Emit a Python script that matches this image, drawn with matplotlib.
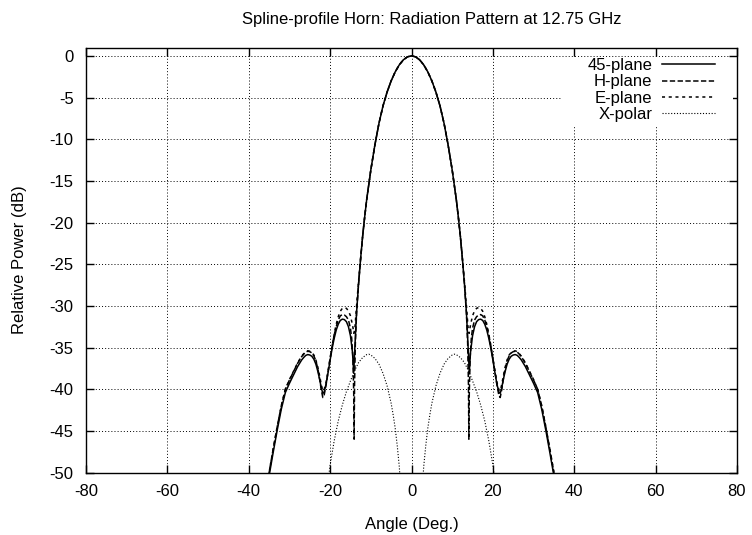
import numpy as np
import matplotlib
matplotlib.use("Agg")
import matplotlib.pyplot as plt
from matplotlib.patches import Rectangle

# ---------------- data ----------------
angle_45 = [-35.5, -35, -34, -33, -32, -31, -30, -29, -28, -27, -26.5, -26, -25.5, -25, -24.5,
            -24, -23.5, -23, -22.5, -22.2, -21.8, -21.5, -21, -20.5, -20, -19.5, -19, -18.5,
            -18, -17.5, -17, -16.5, -16, -15.5, -15, -14.5, -14.2, -13.9, -13.5, -13, -12.5,
            -12, -11.5, -11, -10, -9, -8, -7, -6, -5, -4, -3, -2, -1, 0,
            1, 2, 3, 4, 5, 6, 7, 8, 9, 10, 11, 11.5, 12, 12.5, 13, 13.5, 13.9, 14.2, 14.5,
            15, 15.5, 16, 16.5, 17, 17.5, 18, 18.5, 19, 19.5, 20, 20.5, 21, 21.5, 21.8, 22.2,
            22.5, 23, 23.5, 24, 24.5, 25, 25.5, 26, 26.5, 27, 28, 29, 30, 31, 32, 33, 34, 35, 35.5]
p45 = [-51.8, -50.4, -47.6, -44.9, -42.4, -40.4, -39.3, -38.3, -37.3, -36.5, -36.2, -35.95,
       -35.85, -35.9, -36.05, -36.4, -37.0, -37.9, -39.0, -39.8, -40.5, -40.4, -39.4, -38.0,
       -36.5, -35.1, -33.9, -32.9, -32.2, -31.75, -31.6, -31.65, -31.9, -32.5, -33.6, -35.6,
       -38.0, -34.8, -30.8, -27.3, -24.3, -21.6, -19.3, -17.2, -13.7, -10.7, -8.1, -6.0,
       -4.35, -3.0, -1.92, -1.08, -0.48, -0.12, 0.0,
       -0.12, -0.48, -1.08, -1.92, -3.0, -4.35, -6.0, -8.1, -10.7, -13.7, -17.2, -19.3,
       -21.6, -24.3, -27.3, -30.8, -34.8, -38.0, -35.6, -33.6, -32.5, -31.9, -31.65, -31.6,
       -31.75, -32.2, -32.9, -33.9, -35.1, -36.5, -38.0, -39.4, -40.4, -40.5, -39.8, -39.0,
       -37.9, -37.0, -36.4, -36.05, -35.9, -35.85, -35.95, -36.2, -36.5, -37.3, -38.3, -39.3,
       -40.4, -42.4, -44.9, -47.6, -50.4, -51.8]

angle_h = [-35.5, -35, -34, -33, -32, -31, -30, -29, -28, -27, -26.5, -26, -25.5, -25, -24.5,
           -24, -23.5, -23, -22.5, -22.2, -21.8, -21.5, -21, -20.5, -20, -19.5, -19, -18.5,
           -18, -17.5, -17, -16.5, -16, -15.5, -15, -14.7, -14.4, -14.2, -14.1, -14.0, -13.8,
           -13.5, -13, -12.5, -12, -11.5, -11, -10, -9, -8, -7, -6, -5, -4, -3, -2, -1, 0,
           1, 2, 3, 4, 5, 6, 7, 8, 9, 10, 11, 11.5, 12, 12.5, 13, 13.5, 13.8, 14.0, 14.1,
           14.2, 14.4, 14.7, 15, 15.5, 16, 16.5, 17, 17.5, 18, 18.5, 19, 19.5, 20, 20.5, 21,
           21.5, 21.8, 22.2, 22.5, 23, 23.5, 24, 24.5, 25, 25.5, 26, 26.5, 27, 28, 29, 30, 31,
           32, 33, 34, 35, 35.5]
ph = [-51.4, -50.0, -47.2, -44.5, -42.0, -40.0, -38.9, -37.9, -36.9, -36.1, -35.8, -35.55,
      -35.45, -35.5, -35.65, -36.0, -36.6, -37.6, -39.0, -40.0, -41.0, -40.8, -39.5, -37.9,
      -36.3, -34.8, -33.5, -32.5, -31.7, -31.2, -31.05, -31.1, -31.3, -31.7, -32.7, -33.9,
      -36.3, -40.5, -46.0, -39.5, -34.5, -30.9, -27.3, -24.3, -21.6, -19.3, -17.2, -13.7,
      -10.7, -8.1, -6.0, -4.35, -3.0, -1.92, -1.08, -0.48, -0.12, 0.0,
      -0.12, -0.48, -1.08, -1.92, -3.0, -4.35, -6.0, -8.1, -10.7, -13.7, -17.2, -19.3,
      -21.6, -24.3, -27.3, -30.9, -34.5, -39.5, -46.0, -40.5, -36.3, -33.9, -32.7, -31.7,
      -31.3, -31.1, -31.05, -31.2, -31.7, -32.5, -33.5, -34.8, -36.3, -37.9, -39.5, -40.8,
      -41.0, -40.0, -39.0, -37.6, -36.6, -36.0, -35.65, -35.5, -35.45, -35.55, -35.8, -36.1,
      -36.9, -37.9, -38.9, -40.0, -42.0, -44.5, -47.2, -50.0, -51.4]

angle_e = [-35.5, -35, -34, -33, -32, -31, -30, -29, -28, -27, -26.5, -26, -25.5, -25, -24.5,
           -24, -23.5, -23, -22.5, -22.2, -21.8, -21.5, -21, -20.5, -20, -19.5, -19, -18.5,
           -18, -17.5, -17, -16.5, -16, -15.5, -15, -14.5, -14.15, -13.9, -13.5, -13, -12.5,
           -12, -11.5, -11, -10, -9, -8, -7, -6, -5, -4, -3, -2, -1, 0,
           1, 2, 3, 4, 5, 6, 7, 8, 9, 10, 11, 11.5, 12, 12.5, 13, 13.5, 13.9, 14.15, 14.5,
           15, 15.5, 16, 16.5, 17, 17.5, 18, 18.5, 19, 19.5, 20, 20.5, 21, 21.5, 21.8, 22.2,
           22.5, 23, 23.5, 24, 24.5, 25, 25.5, 26, 26.5, 27, 28, 29, 30, 31, 32, 33, 34, 35, 35.5]
pe = [-51.4, -50.0, -47.2, -44.5, -42.0, -40.0, -38.85, -37.85, -36.85, -36.05, -35.75,
      -35.5, -35.4, -35.45, -35.6, -35.9, -36.5, -37.4, -38.6, -39.4, -40.2, -40.1, -39.2,
      -37.8, -36.3, -34.8, -33.4, -32.2, -31.3, -30.65, -30.3, -30.2, -30.3, -30.6, -31.2,
      -32.3, -33.3, -32.6, -30.0, -27.0, -24.3, -21.6, -19.3, -17.2, -13.7, -10.7, -8.1,
      -6.0, -4.35, -3.0, -1.92, -1.08, -0.48, -0.12, 0.0,
      -0.12, -0.48, -1.08, -1.92, -3.0, -4.35, -6.0, -8.1, -10.7, -13.7, -17.2, -19.3,
      -21.6, -24.3, -27.0, -30.0, -32.6, -33.3, -32.3, -31.2, -30.6, -30.3, -30.2, -30.3,
      -30.65, -31.3, -32.2, -33.4, -34.8, -36.3, -37.8, -39.2, -40.1, -40.2, -39.4, -38.6,
      -37.4, -36.5, -35.9, -35.6, -35.45, -35.4, -35.5, -35.75, -36.05, -36.85, -37.85,
      -38.85, -40.0, -42.0, -44.5, -47.2, -50.0, -51.4]

angle_x = [-21, -20.5, -20, -19, -18, -17, -16, -15, -14, -13, -12, -11, -10.5, -10, -9, -8,
           -7, -6, -5, -4.5, -4, -3.5, -3, -2.5, 0,
           2.5, 3, 3.5, 4, 4.5, 5, 6, 7, 8, 9, 10, 10.5, 11, 12, 13, 14, 15, 16, 17, 18, 19,
           20, 20.5, 21]
px = [-53.0, -51.0, -49.1, -46.2, -43.8, -41.9, -40.3, -39.0, -37.8, -36.8, -36.2, -35.85,
      -35.8, -35.9, -36.3, -37.0, -38.1, -39.6, -41.7, -43.1, -44.7, -46.8, -49.3, -53.0,
      np.nan,
      -53.0, -49.3, -46.8, -44.7, -43.1, -41.7, -39.6, -38.1, -37.0, -36.3, -35.9, -35.8,
      -35.85, -36.2, -36.8, -37.8, -39.0, -40.3, -41.9, -43.8, -46.2, -49.1, -51.0, -53.0]

series_labels = ["45-plane", "H-plane", "E-plane", "X-polar"]
title = "Spline-profile Horn: Radiation Pattern at 12.75 GHz"
xlabel = "Angle (Deg.)"
ylabel = "Relative Power (dB)"
xticks = [-80, -60, -40, -20, 0, 20, 40, 60, 80]
yticks = [0, -5, -10, -15, -20, -25, -30, -35, -40, -45, -50]

# ---------------- style ----------------
plt.rcParams["font.family"] = ["Liberation Sans", "DejaVu Sans"]
plt.rcParams["font.size"] = 12
plt.rcParams["axes.unicode_minus"] = False

W, H = 752, 535
x0, x1, y0, y1 = 86, 737, 47.5, 472.5  # axes box in pixels (left, right, top, bottom)
fig = plt.figure(figsize=(W / 100, H / 100), dpi=100)
ax = fig.add_axes([x0 / W, 1 - y1 / H, (x1 - x0) / W, (y1 - y0) / H])

def fx(px_):
    return (px_ - x0) / (x1 - x0)

def fy(py_):
    return (y1 - py_) / (y1 - y0)

lw = 1.1
ax.plot(angle_45, p45, color="black", lw=lw, label=series_labels[0], zorder=3)
ax.plot(angle_h, ph, color="black", lw=lw, dashes=(3.5, 1.6), label=series_labels[1], zorder=3)
ax.plot(angle_e, pe, color="black", lw=lw, dashes=(2.0, 2.4), label=series_labels[2], zorder=3)
ax.plot(angle_x, px, color="black", lw=0.8, dashes=(1.0, 1.6), label=series_labels[3], zorder=3)

ax.set_xlim(-80, 80)
ax.set_ylim(-50, 1)
ax.set_xticks(xticks)
ax.set_yticks(yticks)
ax.set_xticklabels([str(t) for t in xticks])
ax.set_yticklabels([str(t) for t in yticks])
ax.tick_params(direction="in", length=6, width=1.0, top=True, right=True,
               color="black", labelcolor="black")
ax.tick_params(axis="x", pad=8)
ax.tick_params(axis="y", pad=9)
ax.grid(True, color="black", lw=0.7, linestyle=(0, (1, 2.2)))
ax.set_axisbelow(True)
for s in ax.spines.values():
    s.set_linewidth(1.0)

ax.set_title(title, fontsize=12, pad=17, x=fx(432))
ax.set_xlabel(xlabel, labelpad=13)
ax.set_ylabel(ylabel, labelpad=16)

# white key area that hides the grid behind the legend
ax.add_patch(Rectangle((fx(562), fy(127)), fx(733) - fx(562), fy(58) - fy(127),
                       transform=ax.transAxes, facecolor="white", edgecolor="none",
                       zorder=1))

leg = ax.legend(loc="upper right", bbox_to_anchor=(fx(715), fy(58)),
                markerfirst=False, frameon=False,
                handlelength=3.17, handletextpad=0.6, labelspacing=0.08,
                borderpad=0.0, borderaxespad=0.0, fontsize=12)
leg.set_zorder(5)

fig.savefig("out.png", dpi=100)
